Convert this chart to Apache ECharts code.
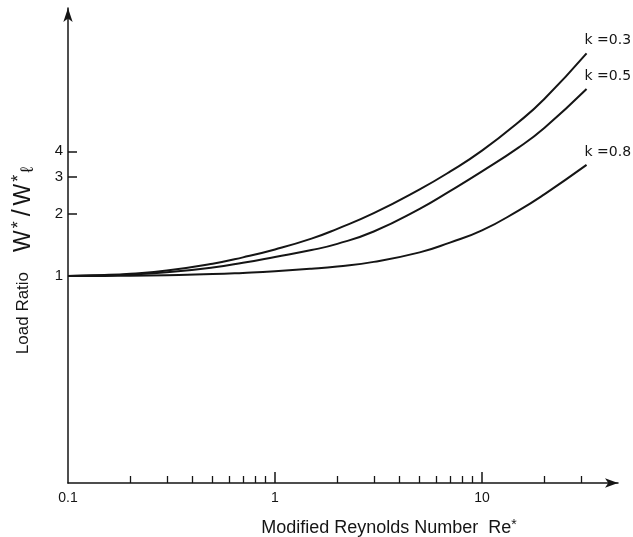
<!DOCTYPE html>
<html><head><meta charset="utf-8">
<script src="https://cdn.jsdelivr.net/npm/echarts@6/dist/echarts.min.js"></script>
<style>html,body{margin:0;padding:0;background:#fff}#c{width:633px;height:537px}</style>
</head><body><div id="c"></div>
<script>
// Modified Reynolds number Re* (x, log scale)
const reynolds = [0.1, 0.15, 0.2, 0.3, 0.5, 0.7, 1, 1.5, 2, 3, 5, 7, 10, 15, 20, 32];
// Load ratio W*/Wl* for each k
const loadK03 = [1.0, 1.011, 1.026, 1.062, 1.146, 1.23, 1.343, 1.515, 1.69, 2.01, 2.62, 3.19, 4.03, 5.53, 7.16, 11.9];
const loadK05 = [1.0, 1.007, 1.016, 1.041, 1.10, 1.159, 1.236, 1.334, 1.429, 1.64, 2.11, 2.57, 3.20, 4.17, 5.19, 8.0];
const loadK08 = [1.0, 1.001, 1.003, 1.009, 1.021, 1.035, 1.054, 1.084, 1.112, 1.17, 1.30, 1.45, 1.66, 2.07, 2.48, 3.44];
const seriesNames = ['k =0.3', 'k =0.5', 'k =0.8'];
// tick labels / tick positions
const xLabelValues = [0.1, 1, 10];
const xMajorTicks = [1, 10];
const xMinorTicks = [0.2, 0.3, 0.4, 0.5, 0.6, 0.7, 0.8, 0.9, 2, 3, 4, 5, 6, 7, 8, 9, 20, 30];
const yLabelValues = [1, 2, 3, 4];

const ink = '#151515';
const font = 'Liberation Sans';
const chart = echarts.init(document.getElementById('c'), null, {renderer: 'canvas'});

function pairs(ys) { return reynolds.map((x, i) => [x, ys[i]]); }

const option = {
  animation: false,
  backgroundColor: '#fff',
  grid: {left: 68, right: 15, top: 8, bottom: 54, containLabel: false, outerBoundsMode: 'none'},
  xAxis: [{
    type: 'log', logBase: 10, min: 0.1, max: 45.4,
    name: 'Modified Reynolds Number  Re{s|*}', nameLocation: 'middle', nameGap: 35,
    nameTextStyle: {fontFamily: font, fontSize: 18, color: ink, padding: [0, 0, 0, 92],
      rich: {s: {fontFamily: font, fontSize: 14, color: ink, verticalAlign: 'top', padding: [0,0,6,0]}}},
    axisLine: {show: true, symbol: ['none', 'arrow'], symbolSize: [7, 13], lineStyle: {color: ink, width: 1.5}},
    axisTick: {show: true, inside: true, length: 11, customValues: xMajorTicks, lineStyle: {color: ink, width: 1.5}},
    axisLabel: {show: true, customValues: xLabelValues, margin: 8, fontFamily: font, fontSize: 14, color: ink,
      formatter: v => String(v)},
    splitLine: {show: false}, minorTick: {show: false}
  }, {
    type: 'log', logBase: 10, min: 0.1, max: 45.4, position: 'bottom',
    axisLine: {show: false},
    axisTick: {show: true, inside: true, length: 7, customValues: xMinorTicks, lineStyle: {color: ink, width: 1.3}},
    axisLabel: {show: false}, splitLine: {show: false}
  }],
  yAxis: {
    type: 'log', logBase: 10, min: 0.1, max: 19.7,
    name: 'Load Ratio    {w|W}{s|*}{l|/}{w|W}{s|*}{b|ℓ}', nameLocation: 'middle', nameGap: 31, nameRotate: 90,
    nameTextStyle: {fontFamily: font, fontSize: 17, color: ink, padding: [0, 30, 0, 0],
      rich: {
        w: {fontFamily: font, fontSize: 23, color: ink, padding: [0, 1, 0, 1]},
        l: {fontFamily: font, fontSize: 25, color: ink, padding: [0, 3, 0, 3]},
        s: {fontFamily: font, fontSize: 18, color: ink, verticalAlign: 'top', padding: [0, 2, 9, 1]},
        b: {fontFamily: font, fontSize: 18, color: ink, verticalAlign: 'bottom', padding: [9, 0, 0, 0]}
      }},
    axisLine: {show: true, symbol: ['none', 'arrow'], symbolSize: [7, 14], lineStyle: {color: ink, width: 1.5}},
    axisTick: {show: true, inside: true, length: 9, customValues: yLabelValues, lineStyle: {color: ink, width: 1.5}},
    axisLabel: {show: true, customValues: yLabelValues, margin: 5, fontFamily: font, fontSize: 15, color: ink,
      formatter: v => String(v)},
    splitLine: {show: false}, minorTick: {show: false}
  },
  series: [loadK03, loadK05, loadK08].map((ys, i) => ({
    type: 'line', name: seriesNames[i], data: pairs(ys), smooth: 0.5,
    showSymbol: false, symbol: 'none',
    lineStyle: {color: ink, width: 2},
    endLabel: {show: true, formatter: seriesNames[i], offset: [-10, -13], align: 'left', verticalAlign: 'middle',
      fontFamily: 'DejaVu Sans', fontSize: 14, color: ink}
  }))
};
chart.setOption(option);
</script></body></html>
